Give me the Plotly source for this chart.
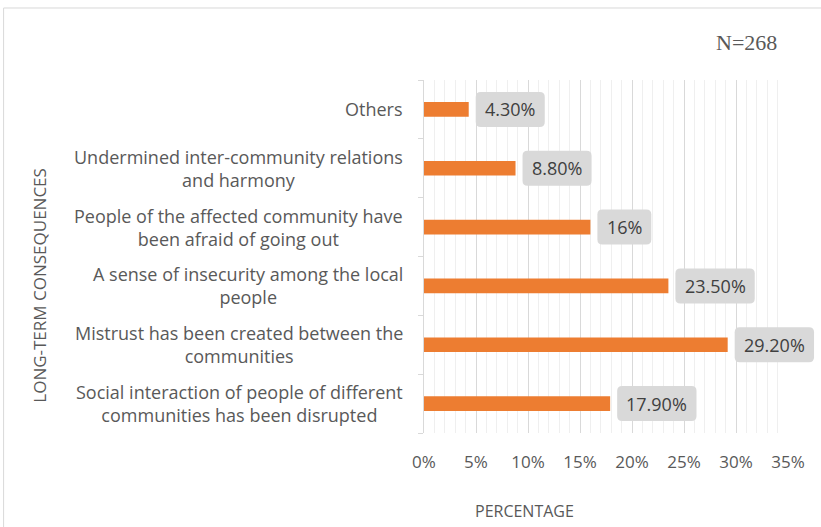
import plotly.graph_objects as go

# Long-term consequences of communal incidents (share of respondents, N=268)
categories = [
    "Social interaction of people of different<br>communities has been disrupted",
    "Mistrust has been created between the<br>communities",
    "A sense of insecurity among the local<br>people",
    "People of the affected community have<br>been afraid of going out",
    "Undermined inter-community relations<br>and harmony",
    "Others",
]
values = [17.9, 29.2, 23.5, 16.0, 8.8, 4.3]
value_labels = ["17.90%", "29.20%", "23.50%", "16%", "8.80%", "4.30%"]
tick_values = [0, 5, 10, 15, 20, 25, 30, 35]
tick_labels = ["0%", "5%", "10%", "15%", "20%", "25%", "30%", "35%"]
X_MAX = 35

BAR = "#ED7D31"
TEXT = "#595959"
FONT = "Open Sans"
LABEL_SIZE = 18

fig = go.Figure(
    go.Bar(
        x=values,
        y=categories,
        orientation="h",
        marker=dict(color=BAR, line=dict(width=0)),
        width=0.25,
        hoverinfo="skip",
    )
)


def text_width(s, size):
    # rough advance widths for Open Sans (em units)
    em = {".": 0.27, "%": 0.85}
    return sum(em.get(ch, 0.572) for ch in s) * size


def rounded_box(x0, w, h, r):
    x1 = x0 + w
    y0, y1 = -h / 2, h / 2
    return (
        f"M {x0 + r},{y0} L {x1 - r},{y0} Q {x1},{y0} {x1},{y0 + r} "
        f"L {x1},{y1 - r} Q {x1},{y1} {x1 - r},{y1} L {x0 + r},{y1} "
        f"Q {x0},{y1} {x0},{y1 - r} L {x0},{y0 + r} Q {x0},{y0} {x0 + r},{y0} Z"
    )


# value call-outs in rounded grey boxes to the right of each bar;
# anchored in paper units so a box may run past the last gridline
GAP, PAD, BOX_H, RADIUS = 7, 9, 35, 5
n = len(categories)
for i, (v, c, lab) in enumerate(zip(values, categories, value_labels)):
    w = text_width(lab, LABEL_SIZE) + 2 * PAD
    fig.add_shape(
        type="path", xref="paper", yref="paper",
        xsizemode="pixel", ysizemode="pixel",
        xanchor=v / X_MAX, yanchor=(i + 0.5) / n,
        path=rounded_box(GAP, w, BOX_H, RADIUS),
        fillcolor="#D9D9D9", line=dict(width=0), layer="above",
    )
    fig.add_annotation(
        x=v, y=c, xref="x", yref="y",
        text=lab, showarrow=False,
        xanchor="center", yanchor="middle", xshift=GAP + w / 2,
        font=dict(family=FONT, size=LABEL_SIZE, color="#404040"),
    )

# category labels, centred line by line
for c in categories:
    fig.add_annotation(
        x=0, y=c, xref="paper", yref="y",
        text=c, showarrow=False, align="center",
        xanchor="right", yanchor="middle", xshift=-19,
        font=dict(family=FONT, size=18, color=TEXT),
    )

fig.add_annotation(
    x=0.887, y=1.105, xref="paper", yref="paper",
    text="N=268", showarrow=False, xanchor="center", yanchor="middle",
    font=dict(family="Liberation Serif", size=22, color="#595959"),
)
fig.add_annotation(
    x=-1.055, y=0.42, xref="paper", yref="paper",
    text="LONG-TERM CONSEQUENCES", showarrow=False, textangle=-90,
    xanchor="center", yanchor="middle",
    font=dict(family=FONT, size=17, color=TEXT),
)
fig.add_annotation(
    x=0.277, y=-0.221, xref="paper", yref="paper",
    text="PERCENTAGE", showarrow=False, xanchor="center", yanchor="middle",
    font=dict(family=FONT, size=16, color=TEXT),
)

# light frame around the chart area
fig.add_shape(
    type="rect", xref="paper", yref="paper",
    x0=-1.155, x1=1.2, y0=-0.4, y1=1.204,
    line=dict(color="#D9D9D9", width=1), fillcolor="rgba(0,0,0,0)",
    layer="below",
)

fig.update_layout(
    width=821, height=527,
    margin=dict(l=424, r=33, t=80, b=94),
    paper_bgcolor="white", plot_bgcolor="white",
    showlegend=False,
    xaxis=dict(
        range=[0, X_MAX], tickvals=tick_values, ticktext=tick_labels,
        showgrid=True, gridcolor="#D9D9D9", gridwidth=1,
        minor=dict(dtick=1, showgrid=True, gridcolor="#EFEFEF", gridwidth=1),
        zeroline=False, showline=False,
        ticks="outside", ticklen=14, tickcolor="rgba(0,0,0,0)",
        tickfont=dict(family=FONT, size=17, color=TEXT),
        fixedrange=True,
    ),
    yaxis=dict(
        type="category", categoryorder="array", categoryarray=categories,
        showline=True, linecolor="#D9D9D9", linewidth=1,
        ticks="outside", ticklen=5, tickcolor="#D9D9D9", tickson="boundaries",
        showgrid=False, showticklabels=False,
        fixedrange=True,
    ),
)

fig.write_html("out.html")
